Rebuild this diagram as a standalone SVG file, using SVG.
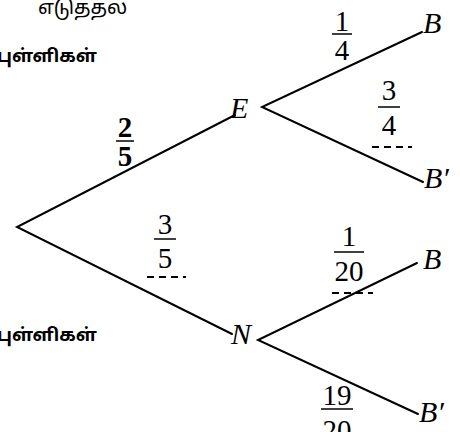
<svg xmlns="http://www.w3.org/2000/svg" width="460" height="432" viewBox="0 0 460 432">
<style>
.edge{stroke:#000;stroke-width:2;fill:none;stroke-linecap:round}
.var{font-family:"Liberation Serif","Times New Roman",serif;font-style:italic;font-size:30px;fill:#000}
.num{font-family:"Liberation Serif","Times New Roman",serif;font-size:29px;fill:#000;text-anchor:middle}
.bar{stroke:#000;stroke-width:1.5}
.dash{stroke:#000;stroke-width:2;stroke-dasharray:7,5}
.ta{font-family:"Noto Sans Tamil","Latha","Noto Sans",sans-serif;font-size:20px;fill:#000}
.tab{font-family:"Noto Sans Tamil","Latha","Noto Sans",sans-serif;font-size:18px;font-weight:bold;fill:#000}
</style>
<rect width="460" height="432" fill="#fff"/>
<g id="connectors">
<polyline class="edge" points="235,115 17,227 232,334"/>
<polyline class="edge" points="422,32 262,107 423,182"/>
<polyline class="edge" points="417,263 258,340 418,414"/>
</g>
<g id="tamil-texts">
<text class="ta" x="38" y="14">எடுத்தல்</text>
<text class="tab" x="-3" y="62">புள்ளிகள்</text>
<text class="tab" x="-3" y="341">புள்ளிகள்</text>
</g>
<g id="node-E"><text class="var" x="230" y="118">E</text></g>
<g id="node-N"><text class="var" x="231" y="344">N</text></g>
<g id="node-B1"><text class="var" x="423" y="33">B</text></g>
<g id="node-B1p"><text class="var" x="424" y="188">B′</text></g>
<g id="node-B2"><text class="var" x="423" y="269">B</text></g>
<g id="node-B2p"><text class="var" x="419" y="422">B′</text></g>
<g id="label-2-5">
<text class="num" x="125" y="137" font-weight="bold" font-size="27">2</text>
<line class="bar" x1="116" y1="141" x2="134" y2="141" stroke-width="2.5"/>
<text class="num" x="125" y="166" font-weight="bold" font-size="27">5</text>
</g>
<g id="label-3-5">
<text class="num" x="165" y="234">3</text>
<line class="bar" x1="154" y1="239" x2="176" y2="239"/>
<text class="num" x="165" y="268">5</text>
<line class="dash" x1="147" y1="277" x2="186" y2="277"/>
</g>
<g id="label-1-4">
<text class="num" x="342" y="31">1</text>
<line class="bar" x1="332" y1="34" x2="352" y2="34"/>
<text class="num" x="342" y="60">4</text>
</g>
<g id="label-3-4">
<text class="num" x="389" y="100">3</text>
<line class="bar" x1="378" y1="107" x2="400" y2="107"/>
<text class="num" x="389" y="135">4</text>
<line class="dash" x1="372" y1="147" x2="412" y2="147"/>
</g>
<g id="label-1-20">
<text class="num" x="349" y="246">1</text>
<line class="bar" x1="334" y1="252" x2="364" y2="252"/>
<text class="num" x="349" y="281">20</text>
<line class="dash" x1="332" y1="293" x2="373" y2="293"/>
</g>
<g id="label-19-20">
<text class="num" x="337" y="405">19</text>
<line class="bar" x1="321" y1="409" x2="353" y2="409"/>
<text class="num" x="337" y="440">20</text>
</g>
</svg>
